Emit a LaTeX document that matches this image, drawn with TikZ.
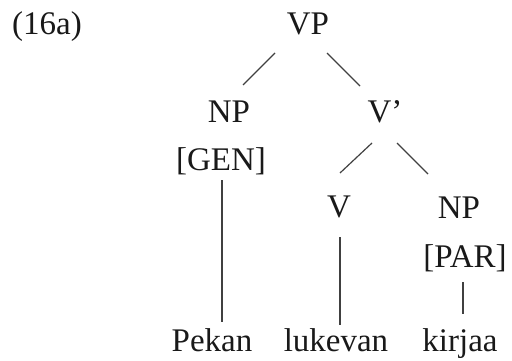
\documentclass[tikz,border=0pt]{standalone}
\usepackage{fontspec}
\setmainfont{Liberation Serif}
\begin{document}
\begin{tikzpicture}[x=1pt,y=1pt,
  lbl/.style={inner sep=0pt, anchor=base, font=\fontsize{33}{40}\selectfont, text=black!90},
  edge/.style={line width=1.2pt, draw=black!75}]
\useasboundingbox (0,0) rectangle (512,-361);
\node[lbl] (ex) at (47,-35) {(16a)};
\node[lbl] (vp) at (308,-35) {VP};
\node[lbl] (np1) at (229,-123) {NP};
\node[lbl] (gen) at (221,-170) {[GEN]};
\node[lbl] (vbar) at (385,-123) {V’};
\node[lbl] (v) at (339,-217) {V};
\node[lbl] (np2) at (459,-218) {NP};
\node[lbl] (par) at (465,-267) {[PAR]};
\node[lbl] (w1) at (212,-351) {Pekan};
\node[lbl] (w2) at (336,-351) {lukevan};
\node[lbl] (w3) at (460,-351) {kirjaa};
\draw[edge] ([shift={(-33,-18)}]vp.base) -- ([shift={(14,38)}]np1.base);
\draw[edge] ([shift={(19,-18)}]vp.base) -- ([shift={(-25,37)}]vbar.base);
\draw[edge] ([shift={(-13,-20)}]vbar.base) -- ([shift={(1,44)}]v.base);
\draw[edge] ([shift={(12,-20)}]vbar.base) -- ([shift={(-31,44)}]np2.base);
\draw[edge] ([shift={(1,-10)}]gen.base) -- ([shift={(10,29)}]w1.base);
\draw[edge] ([shift={(1,-20)}]v.base) -- ([shift={(4,26)}]w2.base);
\draw[edge] ([shift={(-2,-15)}]par.base) -- ([shift={(3,37)}]w3.base);
\end{tikzpicture}
\end{document}
